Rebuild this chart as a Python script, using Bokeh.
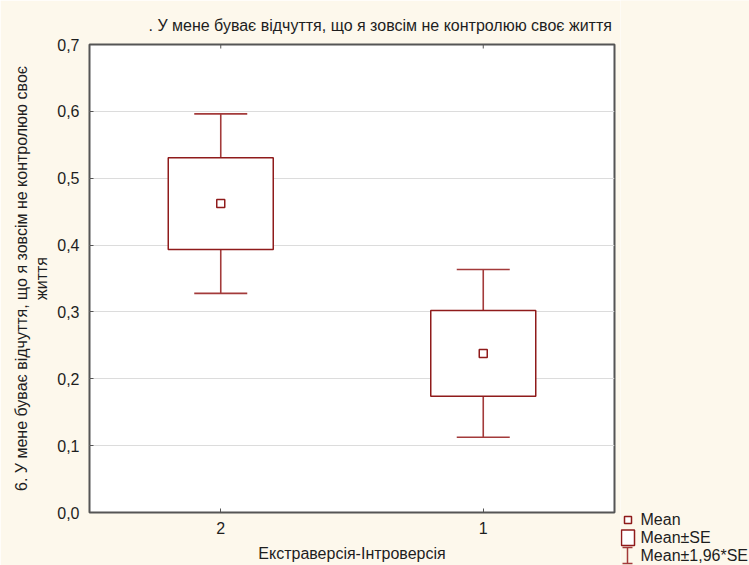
import math
from bokeh.plotting import figure
from bokeh.layouts import row
from bokeh.models import (ColumnDataSource, FactorRange, Range1d, Whisker, TeeHead,
                          FixedTicker, CustomJSTickFormatter)
from bokeh.core.properties import value
from bokeh.embed import file_html
from bokeh.resources import INLINE

# Group means and standard errors of the item score
categories = ["2", "1"]
means = [0.462, 0.238]
std_errs = [0.0685, 0.064]
y_ticks = [0.0, 0.1, 0.2, 0.3, 0.4, 0.5, 0.6, 0.7]

title_text = ". У мене буває відчуття, що я зовсім не контролюю своє життя"
y_label = "6. У мене буває відчуття, що я зовсім не контролюю своє\nжиття"
x_label = "Екстраверсія-Інтроверсія"
legend_labels = ["Mean", "Mean±SE", "Mean±1,96*SE"]

FONT = "Liberation Sans"
FSIZE = "16px"
DARK_RED = "#8f1b1b"
WHISKER = "#a33a3a"
FRAME = "#555555"
TEXT = "#1e1e1e"
PAPER = "#fdf8ec"

src = ColumnDataSource(dict(
    cat=categories,
    mean=means,
    se_lo=[m - s for m, s in zip(means, std_errs)],
    se_hi=[m + s for m, s in zip(means, std_errs)],
    ci_lo=[m - 1.96 * s for m, s in zip(means, std_errs)],
    ci_hi=[m + 1.96 * s for m, s in zip(means, std_errs)],
))

y_max = y_ticks[-1]
p = figure(x_range=FactorRange(*categories), y_range=Range1d(y_ticks[0], y_max),
           width=620, height=565, output_backend="svg", toolbar_location=None,
           min_border_left=89, min_border_right=6, min_border_top=44,
           min_border_bottom=53, border_fill_color=PAPER,
           background_fill_color="white", outline_line_color=FRAME,
           outline_line_width=2)

# title
p.title.text = title_text
p.title.align = "left"
p.title.offset = 59
p.title.text_font = FONT
p.title.text_font_size = FSIZE
p.title.text_font_style = "normal"
p.title.text_color = TEXT
p.title.standoff = 22

# whiskers: mean ± 1.96*SE
p.add_layout(Whisker(source=src, base="cat", lower="ci_lo", upper="ci_hi",
                     line_color=WHISKER, line_width=1.6,
                     lower_head=TeeHead(size=53, line_color=WHISKER, line_width=1.6),
                     upper_head=TeeHead(size=53, line_color=WHISKER, line_width=1.6)))
# boxes: mean ± SE
p.vbar(x="cat", width=0.4, bottom="se_lo", top="se_hi", source=src,
       fill_color="white", line_color=DARK_RED, line_width=1.5)
# mean markers
p.scatter(x="cat", y="mean", source=src, marker="square", size=8,
          fill_color="white", line_color=DARK_RED, line_width=1.5)
# small tick marks along the top edge (the outer half is clipped by the frame)
p.scatter(x=categories, y=[y_max] * len(categories), marker="dash", angle=math.pi / 2,
          size=8, line_color=FRAME, line_width=1)

# axes
p.xgrid.visible = False
p.ygrid.grid_line_color = "#dcdcdc"
p.ygrid.ticker = FixedTicker(ticks=y_ticks)

yax = p.yaxis[0]
yax.ticker = FixedTicker(ticks=y_ticks)
yax.formatter = CustomJSTickFormatter(code="return tick.toFixed(1).replace('.', ',');")
yax.axis_label = y_label
yax.axis_label_standoff = 4
yax.major_label_standoff = 10

xax = p.xaxis[0]
xax.axis_label = x_label
xax.major_label_standoff = 9
xax.axis_label_standoff = 8

for ax in (xax, yax):
    ax.axis_line_color = None
    ax.major_tick_in = 4
    ax.major_tick_out = 0
    ax.major_tick_line_color = FRAME
    ax.minor_tick_line_color = None
    ax.major_label_text_font = FONT
    ax.major_label_text_font_size = FSIZE
    ax.major_label_text_color = TEXT
    ax.axis_label_text_font = FONT
    ax.axis_label_text_font_size = FSIZE
    ax.axis_label_text_font_style = "normal"
    ax.axis_label_text_color = TEXT

# legend panel to the right of the chart, in pixel coordinates
leg = figure(width=129, height=565, x_range=Range1d(620, 749), y_range=Range1d(565, 0),
             x_axis_type=None, y_axis_type=None, title=None,
             output_backend="svg", toolbar_location=None, min_border=0,
             outline_line_color=None, background_fill_color=PAPER,
             border_fill_color=PAPER)
leg.grid.visible = False

leg.scatter(x=[627.5], y=[519.5], marker="square", size=7, fill_color="white",
            line_color=DARK_RED, line_width=1.5)
leg.quad(left=[621], right=[634], top=[529.5], bottom=[545], fill_color="white",
         line_color=DARK_RED, line_width=1.5)
leg.segment(x0=[627, 622, 622], y0=[547, 547, 563], x1=[627, 632, 632], y1=[563, 547, 563],
            line_color=WHISKER, line_width=1.5)
leg.text(x=[640, 640, 640], y=[519, 537, 555], text=legend_labels,
         text_font=value(FONT), text_font_size=FSIZE, text_color=TEXT,
         text_baseline="middle", text_align="left")

# keep each figure's frame independent inside the row
for fig in (p, leg):
    if "frame_align" in fig.properties():
        fig.frame_align = False

layout = row(p, leg, spacing=0)
open("out.html", "w").write(file_html(layout, INLINE))
